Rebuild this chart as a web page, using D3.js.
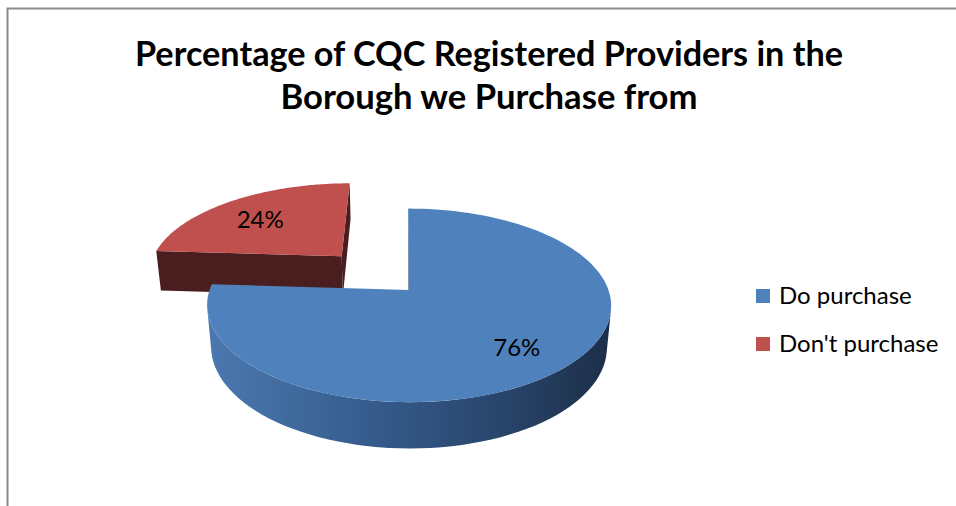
<!DOCTYPE html>
<html>
<head>
<meta charset="utf-8">
<script src="https://cdn.jsdelivr.net/npm/d3@7"></script>
<style>
  body { margin: 0; background: #fff; }
  svg { display: block; font-family: Lato, "Open Sans", sans-serif; }
</style>
</head>
<body>
<svg id="chart" width="956" height="506"></svg>
<script>
const categories = ["Do purchase", "Don't purchase"];
const values = [76, 24];
const labels = ["76%", "24%"];
const topColors = ["#4f81bd", "#c0504d"];
const explode = [0, 0.52];
const titleLines = ["Percentage of CQC Registered Providers in the", "Borough we Purchase from"];

const svg = d3.select("#chart");

// chart frame (only top + left edges visible in the crop)
svg.append("rect")
  .attr("x", 7.5).attr("y", 8.5)
  .attr("width", 1000).attr("height", 600)
  .attr("fill", "none")
  .attr("stroke", "#898989")
  .attr("stroke-width", 2);

// title
const title = svg.append("g").attr("class", "title");
const titleWidths = [708, 417];
titleLines.forEach(function (t, i) {
  title.append("text")
    .attr("x", 489)
    .attr("y", 66 + i * 43)
    .attr("text-anchor", "middle")
    .attr("font-size", 35)
    .attr("font-weight", "bold")
    .attr("fill", "#000")
    .attr("textLength", titleWidths[i])
    .attr("lengthAdjust", "spacingAndGlyphs")
    .text(t);
});

// simple perspective projection of the pie disc
// u: right, v: toward the viewer, h: up (radius = 1)
const cam = { cx: 403, cy: 290, F: 1105, D: 5.54, s: 0.473, c: 0.881, u0: -0.03 };
const thick = 0.24;

function proj(u, v, h) {
  const depth = cam.D - (v * cam.c + h * cam.s);
  return [
    cam.cx + cam.F * (u - cam.u0) / depth,
    cam.cy + cam.F * (v * cam.s - h * cam.c) / depth
  ];
}

// camera position in disc space, used for face culling
const eye = [cam.u0, cam.D * cam.c, cam.D * cam.s];

const pie = d3.pie().sort(null).value(d => d)(values);

const line = d3.line();

const defs = svg.append("defs");
const grad = defs.append("linearGradient")
  .attr("id", "sideBlue")
  .attr("gradientUnits", "userSpaceOnUse")
  .attr("x1", 205).attr("x2", 615).attr("y1", 0).attr("y2", 0);
[[0, "#4b79b0"], [0.4, "#365c8d"], [0.72, "#28456b"], [1, "#1c2e47"]].forEach(function (s) {
  grad.append("stop").attr("offset", s[0]).attr("stop-color", s[1]);
});

const sideFill = ["url(#sideBlue)", "#5b2626"];
const faceFill = ["#1f3350", "#4a1e1e"];

function pt(a, r) { return [Math.sin(a) * r, -Math.cos(a) * r]; }

const slices = pie.map(function (d, i) {
  const mid = (d.startAngle + d.endAngle) / 2;
  const off = pt(mid, explode[i]);
  return { d: d, i: i, ou: off[0], ov: off[1] };
});

// draw the exploded (back) slice first
const order = slices.slice().sort((a, b) => a.ov - b.ov);

const g = svg.append("g").attr("class", "pie");

order.forEach(function (sl) {
  const d = sl.d, i = sl.i;
  const a0 = d.startAngle, a1 = d.endAngle;
  const sg = g.append("g");

  // radial faces
  [[a0, -1], [a1, 1]].forEach(function (f) {
    const a = f[0];
    // outward normal of the face
    const n = [Math.cos(a) * f[1], Math.sin(a) * f[1]];
    const vis = n[0] * (eye[0] - sl.ou) + n[1] * (eye[1] - sl.ov);
    if (vis <= 0) return;
    const p = pt(a, 1);
    const poly = [
      proj(sl.ou, sl.ov, 0),
      proj(sl.ou + p[0], sl.ov + p[1], 0),
      proj(sl.ou + p[0], sl.ov + p[1], -thick),
      proj(sl.ou, sl.ov, -thick)
    ];
    sg.append("path")
      .attr("d", line(poly) + "Z")
      .attr("fill", faceFill[i]);
  });

  // outer wall, only the part facing the camera
  const lim = Math.acos(-1 / (eye[1] - sl.ov));
  const w0 = Math.max(a0, lim), w1 = Math.min(a1, 2 * Math.PI - lim);
  if (w1 > w0) {
    const steps = d3.range(0, 61).map(k => w0 + (w1 - w0) * k / 60);
    const upper = steps.map(a => { const p = pt(a, 1); return proj(sl.ou + p[0], sl.ov + p[1], 0); });
    const lower = steps.slice().reverse().map(a => { const p = pt(a, 1); return proj(sl.ou + p[0], sl.ov + p[1], -thick); });
    sg.append("path")
      .attr("d", line(upper.concat(lower)) + "Z")
      .attr("fill", sideFill[i]);
  }

  // top surface
  const arcPts = d3.range(0, 121).map(k => {
    const a = a0 + (a1 - a0) * k / 120;
    const p = pt(a, 1);
    return proj(sl.ou + p[0], sl.ov + p[1], 0);
  });
  sg.append("path")
    .attr("d", line([proj(sl.ou, sl.ov, 0)].concat(arcPts)) + "Z")
    .attr("fill", topColors[i]);
});

// data labels
slices.forEach(function (sl) {
  const mid = (sl.d.startAngle + sl.d.endAngle) / 2;
  const p = pt(mid, 0.72);
  const xy = proj(sl.ou + p[0], sl.ov + p[1], 0);
  svg.append("text")
    .attr("x", xy[0])
    .attr("y", xy[1] + 4)
    .attr("dy", "0.35em")
    .attr("text-anchor", "middle")
    .attr("font-size", 24)
    .attr("fill", "#000")
    .text(labels[sl.i]);
});

// legend
const legend = svg.append("g").attr("transform", "translate(756,289)");
categories.forEach(function (c, i) {
  const row = legend.append("g").attr("transform", "translate(0," + (i * 48) + ")");
  row.append("rect")
    .attr("width", 14).attr("height", 14)
    .attr("fill", topColors[i]);
  row.append("text")
    .attr("x", 23).attr("y", 15)
    .attr("font-size", 24)
    .attr("fill", "#000")
    .text(c);
});
</script>
</body>
</html>
